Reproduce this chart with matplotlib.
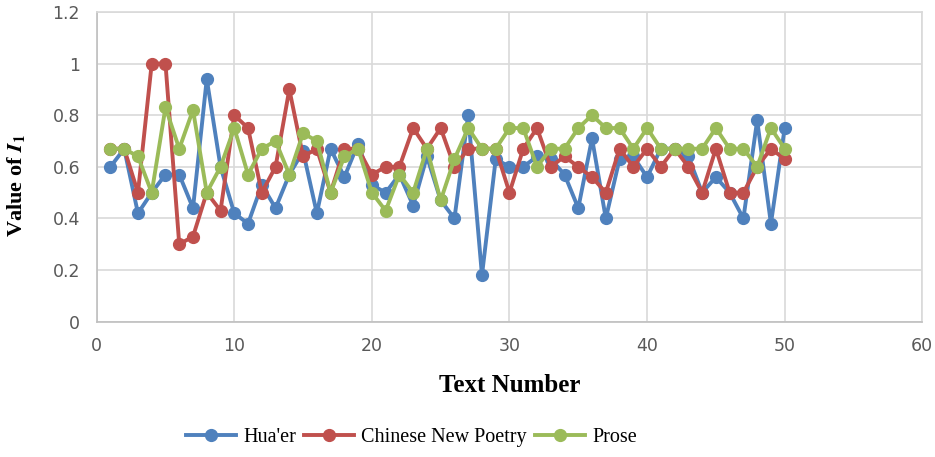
import matplotlib
matplotlib.use('Agg')
import matplotlib.pyplot as plt

text_number = list(range(1, 51))

hua_er = [0.60, 0.67, 0.42, 0.50, 0.57, 0.57, 0.44, 0.94, 0.60, 0.42,
          0.38, 0.53, 0.44, 0.57, 0.66, 0.42, 0.67, 0.56, 0.69, 0.53,
          0.50, 0.57, 0.45, 0.64, 0.47, 0.40, 0.80, 0.18, 0.63, 0.60,
          0.60, 0.64, 0.63, 0.57, 0.44, 0.71, 0.40, 0.63, 0.64, 0.56,
          0.67, 0.67, 0.64, 0.50, 0.56, 0.50, 0.40, 0.78, 0.38, 0.75]

new_poetry = [0.67, 0.67, 0.50, 1.00, 1.00, 0.30, 0.33, 0.50, 0.43, 0.80,
              0.75, 0.50, 0.60, 0.90, 0.64, 0.67, 0.50, 0.67, 0.67, 0.57,
              0.60, 0.60, 0.75, 0.67, 0.75, 0.60, 0.67, 0.67, 0.67, 0.50,
              0.67, 0.75, 0.60, 0.64, 0.60, 0.56, 0.50, 0.67, 0.60, 0.67,
              0.60, 0.67, 0.60, 0.50, 0.67, 0.50, 0.50, 0.60, 0.67, 0.63]

prose = [0.67, 0.67, 0.64, 0.50, 0.83, 0.67, 0.82, 0.50, 0.60, 0.75,
         0.57, 0.67, 0.70, 0.57, 0.73, 0.70, 0.50, 0.64, 0.67, 0.50,
         0.43, 0.57, 0.50, 0.67, 0.47, 0.63, 0.75, 0.67, 0.67, 0.75,
         0.75, 0.60, 0.67, 0.67, 0.75, 0.80, 0.75, 0.75, 0.67, 0.75,
         0.67, 0.67, 0.67, 0.67, 0.75, 0.67, 0.67, 0.60, 0.75, 0.67]

series = [("Hua'er", hua_er, '#4F81BD'),
          ("Chinese New Poetry", new_poetry, '#C0504D'),
          ("Prose", prose, '#9BBB59')]

plt.rcParams['mathtext.fontset'] = 'stix'

fig = plt.figure(figsize=(9.35, 4.57), dpi=100)
ax = fig.add_axes([0.1034, 0.296, 0.883, 0.678])

for name, vals, col in series:
    ax.plot(text_number, vals, color=col, lw=2.8, marker='o', ms=8.5,
            label=name, solid_joinstyle='round')

ax.set_xlim(0, 60)
ax.set_ylim(0, 1.2)
ax.set_xticks(range(0, 61, 10))
ax.set_yticks([0, 0.2, 0.4, 0.6, 0.8, 1, 1.2])
ax.set_yticklabels(['0', '0.2', '0.4', '0.6', '0.8', '1', '1.2'])
ax.grid(True, color='#D9D9D9', lw=1.2)
ax.set_axisbelow(True)
for s in ax.spines.values():
    s.set_color('#D9D9D9')
    s.set_linewidth(1.2)
ax.spines['left'].set_color('#BFBFBF')
ax.spines['bottom'].set_color('#BFBFBF')
ax.tick_params(length=0, labelsize=12.5, colors='#595959')
ax.tick_params(axis='y', pad=12)
ax.tick_params(axis='x', pad=11)

ax.set_xlabel('Text Number', family='Liberation Serif', fontweight='bold',
              fontsize=18, labelpad=14)
ax.set_ylabel(r'Value of $\mathbfit{I}_{\mathbf{1}}$', family='Liberation Serif',
              fontweight='bold', fontsize=16, labelpad=12)
ax.yaxis.set_label_coords(-0.085, 0.44)

fig.legend(loc='center', bbox_to_anchor=(0.44, 0.042), ncol=3, frameon=False,
           prop={'family': 'Liberation Serif', 'size': 14.5},
           handlelength=2.5, columnspacing=0.4, handletextpad=0.35)

fig.savefig('out.png', dpi=100)
